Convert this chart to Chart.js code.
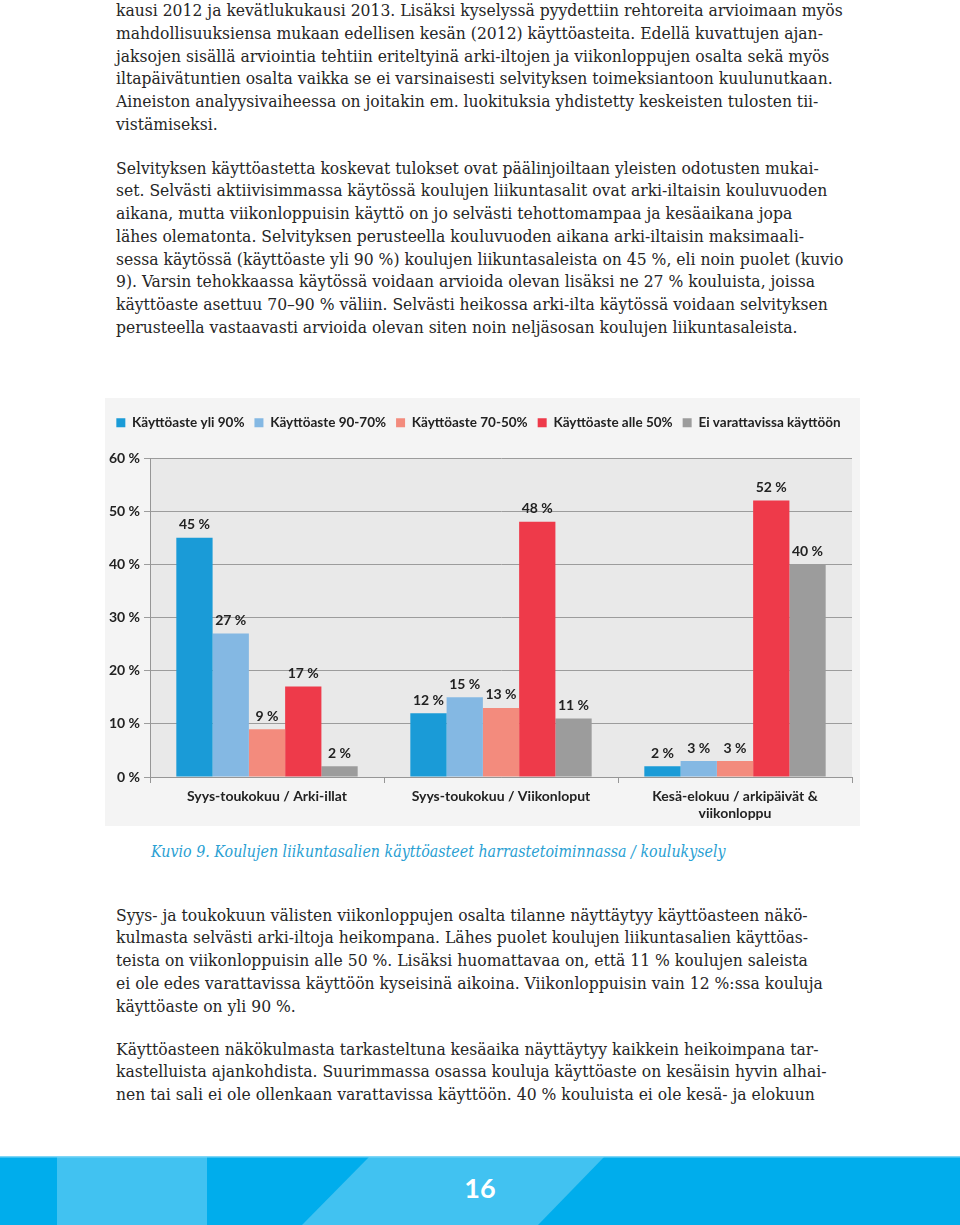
<!DOCTYPE html>
<html>
<head>
<meta charset="utf-8">
<script src="https://cdn.jsdelivr.net/npm/chart.js@4"></script>
<style>
  html, body { margin: 0; padding: 0; background: #fff; }
  body { width: 960px; height: 1225px; position: relative; overflow: hidden; }
  .txt {
    position: absolute; left: 116px; white-space: nowrap;
    font-family: "DejaVu Serif Condensed", "DejaVu Serif", serif;
    font-stretch: condensed; font-size: 15px; line-height: 22.8px; color: #262626;
  }
  #caption {
    position: absolute; left: 151px; top: 841px; white-space: nowrap;
    font-family: "DejaVu Serif Condensed", "DejaVu Serif", serif; font-stretch: condensed;
    font-style: italic; font-size: 15px; line-height: 22px; color: #2a9fd3;
  }
  #chartBox { position: absolute; left: 105px; top: 398px; width: 755px; height: 428px; }
  #footer { position: absolute; left: 0; top: 1156px; width: 960px; height: 69px; overflow: hidden; }
  #pageNo {
    position: absolute; left: 0; top: 1156px; width: 960px; height: 69px; line-height: 64px;
    text-align: center; color: #fff; font-family: Lato, sans-serif; font-weight: bold; font-size: 27px;
  }
</style>
</head>
<body>

<div class="txt" id="p1" style="top:-1px">
<span id="fit">kausi 2012 ja kevätlukukausi 2013. Lisäksi kyselyssä pyydettiin rehtoreita arvioimaan myös</span><br>
mahdollisuuksiensa mukaan edellisen kesän (2012) käyttöasteita. Edellä kuvattujen ajan-<br>
jaksojen sisällä arviointia tehtiin eriteltyinä arki-iltojen ja viikonloppujen osalta sekä myös<br>
iltapäivätuntien osalta vaikka se ei varsinaisesti selvityksen toimeksiantoon kuulunutkaan.<br>
Aineiston analyysivaiheessa on joitakin em. luokituksia yhdistetty keskeisten tulosten tii-<br>
vistämiseksi.
</div>

<div class="txt" style="top:156.5px">
Selvityksen käyttöastetta koskevat tulokset ovat päälinjoiltaan yleisten odotusten mukai-<br>
set. Selvästi aktiivisimmassa käytössä koulujen liikuntasalit ovat arki-iltaisin kouluvuoden<br>
aikana, mutta viikonloppuisin käyttö on jo selvästi tehottomampaa ja kesäaikana jopa<br>
lähes olematonta. Selvityksen perusteella kouluvuoden aikana arki-iltaisin maksimaali-<br>
sessa käytössä (käyttöaste yli 90 %) koulujen liikuntasaleista on 45 %, eli noin puolet (kuvio<br>
9). Varsin tehokkaassa käytössä voidaan arvioida olevan lisäksi ne 27 % kouluista, joissa<br>
käyttöaste asettuu 70–90 % väliin. Selvästi heikossa arki-ilta käytössä voidaan selvityksen<br>
perusteella vastaavasti arvioida olevan siten noin neljäsosan koulujen liikuntasaleista.
</div>

<div id="chartBox"><canvas id="myChart" width="755" height="428"></canvas></div>

<div id="caption">Kuvio 9. Koulujen liikuntasalien käyttöasteet harrastetoiminnassa / koulukysely</div>

<div class="txt" style="top:903.5px">
Syys- ja toukokuun välisten viikonloppujen osalta tilanne näyttäytyy käyttöasteen näkö-<br>
kulmasta selvästi arki-iltoja heikompana. Lähes puolet koulujen liikuntasalien käyttöas-<br>
teista on viikonloppuisin alle 50 %. Lisäksi huomattavaa on, että 11 % koulujen saleista<br>
ei ole edes varattavissa käyttöön kyseisinä aikoina. Viikonloppuisin vain 12 %:ssa kouluja<br>
käyttöaste on yli 90 %.
</div>

<div class="txt" style="top:1037.5px">
Käyttöasteen näkökulmasta tarkasteltuna kesäaika näyttäytyy kaikkein heikoimpana tar-<br>
kastelluista ajankohdista. Suurimmassa osassa kouluja käyttöaste on kesäisin hyvin alhai-<br>
nen tai sali ei ole ollenkaan varattavissa käyttöön. 40 % kouluista ei ole kesä- ja elokuun
</div>

<svg id="footer" width="960" height="69">
  <rect x="0" y="0" width="960" height="69" fill="#00adec"/>
  <rect x="57" y="0" width="150" height="69" fill="#41c2f1"/>
  <polygon points="370,0 605,0 538,69 302,69" fill="#41c2f1"/>
  <rect x="0" y="0" width="960" height="1.5" fill="#7fd6f6"/>
</svg>
<div id="pageNo">16</div>

<script>
// sovita leipätekstin fonttikoko niin, että ensimmäinen rivi päättyy oikeaan kohtaan
(function () {
    var span = document.getElementById('fit');
    var w = span.getBoundingClientRect().width;
    var size = 15 * 727 / w;
    document.querySelectorAll('.txt').forEach(function (el) { el.style.fontSize = size + 'px'; });
    var cap = document.getElementById('caption');
    var cw = cap.getBoundingClientRect().width;
    cap.style.fontSize = (15 * 575 / cw) + 'px';
})();

// Kaavion tiedot
var categories = [
    'Syys-toukokuu / Arki-illat',
    'Syys-toukokuu / Viikonloput',
    ['Kesä-elokuu / arkipäivät &', 'viikonloppu']
];
var seriesNames = ['Käyttöaste yli 90%', 'Käyttöaste 90-70%', 'Käyttöaste 70-50%', 'Käyttöaste alle 50%', 'Ei varattavissa käyttöön'];
var yli90 = [45, 12, 2];
var v90_70 = [27, 15, 3];
var v70_50 = [9, 13, 3];
var alle50 = [17, 48, 52];
var eiVarattavissa = [2, 11, 40];
var yTicks = [0, 10, 20, 30, 40, 50, 60];

var colors = ['#1a9bd7', '#84b8e3', '#f38b7d', '#ee3a4a', '#9c9c9c'];
var seriesData = [yli90, v90_70, v70_50, alle50, eiVarattavissa];

var datasets = seriesData.map(function (d, i) {
    return {
        label: seriesNames[i],
        data: d,
        backgroundColor: colors[i],
        borderWidth: 0,
        categoryPercentage: 0.775,
        barPercentage: 1.0
    };
});

var fontMain = { family: 'Lato, sans-serif', weight: 'bold', size: 14 };

// taustavärit
var bgPlugin = {
    id: 'bg',
    beforeDraw: function (chart) {
        var ctx = chart.ctx, a = chart.chartArea;
        ctx.save();
        ctx.fillStyle = '#f4f4f4';
        ctx.fillRect(0, 0, chart.width, chart.height);
        ctx.fillStyle = '#e9e9e9';
        ctx.fillRect(a.left, a.top, a.right - a.left, a.bottom - a.top);
        ctx.restore();
    }
};

// arvot pylväiden päälle
var valueLabels = {
    id: 'valueLabels',
    afterDatasetsDraw: function (chart) {
        var ctx = chart.ctx;
        ctx.save();
        ctx.font = 'bold 14px Lato, sans-serif';
        ctx.fillStyle = '#222';
        ctx.textAlign = 'center';
        ctx.textBaseline = 'bottom';
        chart.data.datasets.forEach(function (ds, i) {
            chart.getDatasetMeta(i).data.forEach(function (bar, j) {
                ctx.fillText(ds.data[j] + ' %', bar.x, bar.y - 6);
            });
        });
        ctx.restore();
    }
};

// legendan korkeus kiinteäksi
var legendHeight = {
    id: 'legendHeight',
    beforeInit: function (chart) {
        var lg = chart.legend;
        var orig = lg.fit;
        lg.fit = function () {
            orig.call(this);
            this.height = 52;
        };
    }
};

var ctx = document.getElementById('myChart').getContext('2d');
var chart = new Chart(ctx, {
    type: 'bar',
    data: { labels: categories, datasets: datasets },
    options: {
        responsive: false,
        animation: false,
        layout: { padding: { left: 0, right: 8, top: 8, bottom: 0 } },
        plugins: {
            legend: {
                position: 'top',
                labels: {
                    boxWidth: 9, boxHeight: 9, padding: 10,
                    color: '#222', font: { family: 'Lato, sans-serif', weight: 'bold', size: 13.5 }
                }
            },
            tooltip: { enabled: false }
        },
        scales: {
            x: {
                offset: true,
                grid: { display: true, drawOnChartArea: false, tickLength: 6, color: '#969696', offset: true },
                border: { color: '#969696' },
                ticks: { color: '#222', font: fontMain, maxRotation: 0, autoSkip: false, padding: 5 },
                afterFit: function (s) { s.height = 49; }
            },
            y: {
                min: 0, max: 60,
                afterBuildTicks: function (s) { s.ticks = yTicks.map(function (v) { return { value: v }; }); },
                grid: { color: '#9c9c9c', tickLength: 6 },
                border: { color: '#969696' },
                ticks: {
                    color: '#222', font: fontMain, padding: 4,
                    callback: function (v) { return v + ' %'; }
                },
                afterFit: function (s) { s.width = 45; }
            }
        }
    },
    plugins: [bgPlugin, valueLabels, legendHeight]
});
</script>
</body>
</html>
